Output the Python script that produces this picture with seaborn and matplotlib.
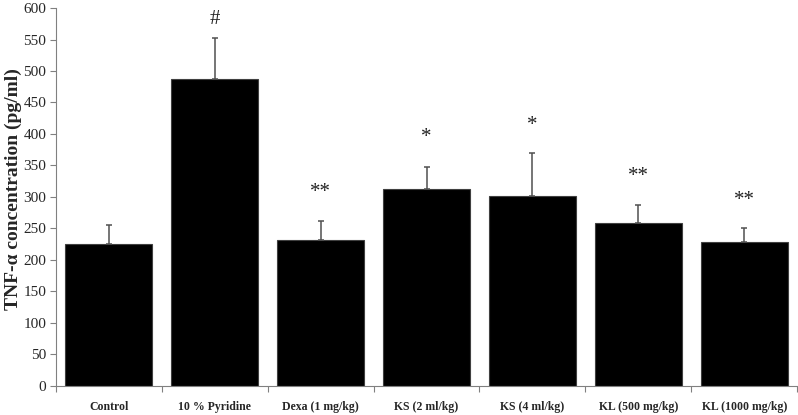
import matplotlib
matplotlib.use("Agg")
import matplotlib.pyplot as plt
import seaborn as sns
import pandas as pd
import numpy as np
from matplotlib.ticker import FixedLocator

groups = ["Control", "10 % Pyridine", "Dexa (1 mg/kg)", "KS (2 ml/kg)",
          "KS (4 ml/kg)", "KL (500 mg/kg)", "KL (1000 mg/kg)"]
means = [225, 487, 231, 313, 302, 259, 228]
errors = [30, 66, 30, 34, 68, 28, 23]
marks = ["", "#", "**", "*", "*", "**", "**"]
mark_y = [None, 582, 307, 394, 414, 333, 294]

sns.set_theme(style="white")
plt.rcParams['font.family'] = ['Liberation Serif', 'DejaVu Serif']

df = pd.DataFrame({"group": groups, "mean": means})

fig = plt.figure(figsize=(7.98, 4.15), dpi=100)
ax = fig.add_axes([0.070, 0.0706, 0.929, 0.910])

sns.barplot(data=df, x="group", y="mean", color="black", width=0.82,
            edgecolor="#404040", linewidth=0.8, saturation=1, ax=ax)

xs = np.arange(len(groups))
ax.errorbar(xs, means, yerr=[np.zeros(len(errors)), errors], fmt="none",
            ecolor="#505050", elinewidth=1.1, capsize=2.5, capthick=1.1, zorder=3)

for x, m, yv in zip(xs, marks, mark_y):
    if m:
        ax.text(x, yv, m, ha="center", va="center", fontsize=15, color="#222222")

ax.set_ylim(0, 600)
ax.set_xlim(-0.5, len(groups) - 0.5)
ax.set_yticks(np.arange(0, 601, 50))
ax.tick_params(axis="y", labelsize=11, length=4, color="#808080", width=0.8, pad=3, left=True)
ax.tick_params(axis="x", which="major", length=0, labelsize=8.5, pad=11)
ax.xaxis.set_minor_locator(FixedLocator(np.arange(-0.5, len(groups), 1.0)))
ax.tick_params(axis="x", which="minor", length=4, color="#808080", width=0.8, bottom=True)
for lab in ax.get_xticklabels():
    lab.set_fontweight("bold")

ax.set_xlabel("")
ax.set_ylabel("TNF-α concentration (pg/ml)", fontsize=14, fontweight="bold")
ax.yaxis.set_label_coords(-0.046, 0.52)

for s in ["top", "right"]:
    ax.spines[s].set_visible(False)
for s in ["left", "bottom"]:
    ax.spines[s].set_color("#808080")
    ax.spines[s].set_linewidth(0.8)

fig.savefig("out.png", dpi=100)
